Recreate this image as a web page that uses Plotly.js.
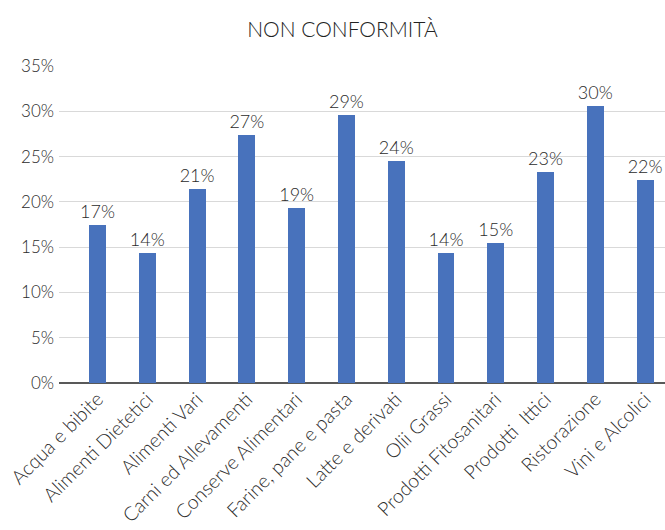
<!DOCTYPE html>
<html>
<head>
<meta charset="utf-8">
<script src="https://cdn.plot.ly/plotly-3.0.1.min.js"></script>
<style>html,body{margin:0;padding:0;background:#fff;}#chart{width:665px;height:530px;}</style>
</head>
<body>
<div id="chart"></div>
<script>
const categories = ["Acqua e bibite","Alimenti Dietetici","Alimenti Vari","Carni ed Allevamenti","Conserve Alimentari","Farine, pane e pasta","Latte e derivati","Olii Grassi","Prodotti Fitosanitari","Prodotti  Ittici","Ristorazione","Vini e Alcolici"];
const values = [17.5, 14.4, 21.4, 27.4, 19.3, 29.6, 24.5, 14.4, 15.5, 23.3, 30.6, 22.4];
const labels = ["17%","14%","21%","27%","19%","29%","24%","14%","15%","23%","30%","22%"];
const yTickVals = [0,5,10,15,20,25,30,35];
const yTickText = ["0%","5%","10%","15%","20%","25%","30%","35%"];

const fontFam = "Lato, 'Open Sans', sans-serif";
const txtCol = '#2b2b2b';
Plotly.newPlot('chart', [{
  type: 'bar',
  x: categories.map((c,i)=>i),
  y: values,
  text: labels,
  textposition: 'outside',
  constraintext: 'none',
  textfont: {family: fontFam, size: 18, color: txtCol, weight: 300},
  cliponaxis: false,
  marker: {color: '#4872BC'},
  width: 0.34,
  hoverinfo: 'none'
}], {
  width: 665, height: 530,
  margin: {l: 59, r: 0, t: 66, b: 147},
  paper_bgcolor: '#fff', plot_bgcolor: '#fff',
  title: {text: 'NON CONFORMITÀ', font: {family: fontFam, size: 21, color: '#222', weight: 300}, x: 0.515, xanchor: 'center', y: 0.945, yanchor: 'middle'},
  showlegend: false,
  xaxis: {
    range: [-0.774, 11.40],
    tickvals: categories.map((c,i)=>i),
    ticktext: categories,
    tickangle: -45,
    tickfont: {family: fontFam, size: 19.5, color: txtCol, weight: 300},
    showgrid: false,
    showline: false,
    zeroline: false,
    ticks: ''
  },
  yaxis: {
    range: [0, 35],
    tickvals: yTickVals,
    ticktext: yTickText,
    tickfont: {family: fontFam, size: 17, color: txtCol, weight: 300},
    showgrid: true,
    gridcolor: '#d9d9d9',
    gridwidth: 1,
    zeroline: true,
    zerolinecolor: '#595959',
    zerolinewidth: 1.5,
    showline: false,
    ticks: '',
    ticklabelstandoff: 4
  },
  bargap: 0
}, {staticPlot: true, displayModeBar: false});
</script>
</body>
</html>
